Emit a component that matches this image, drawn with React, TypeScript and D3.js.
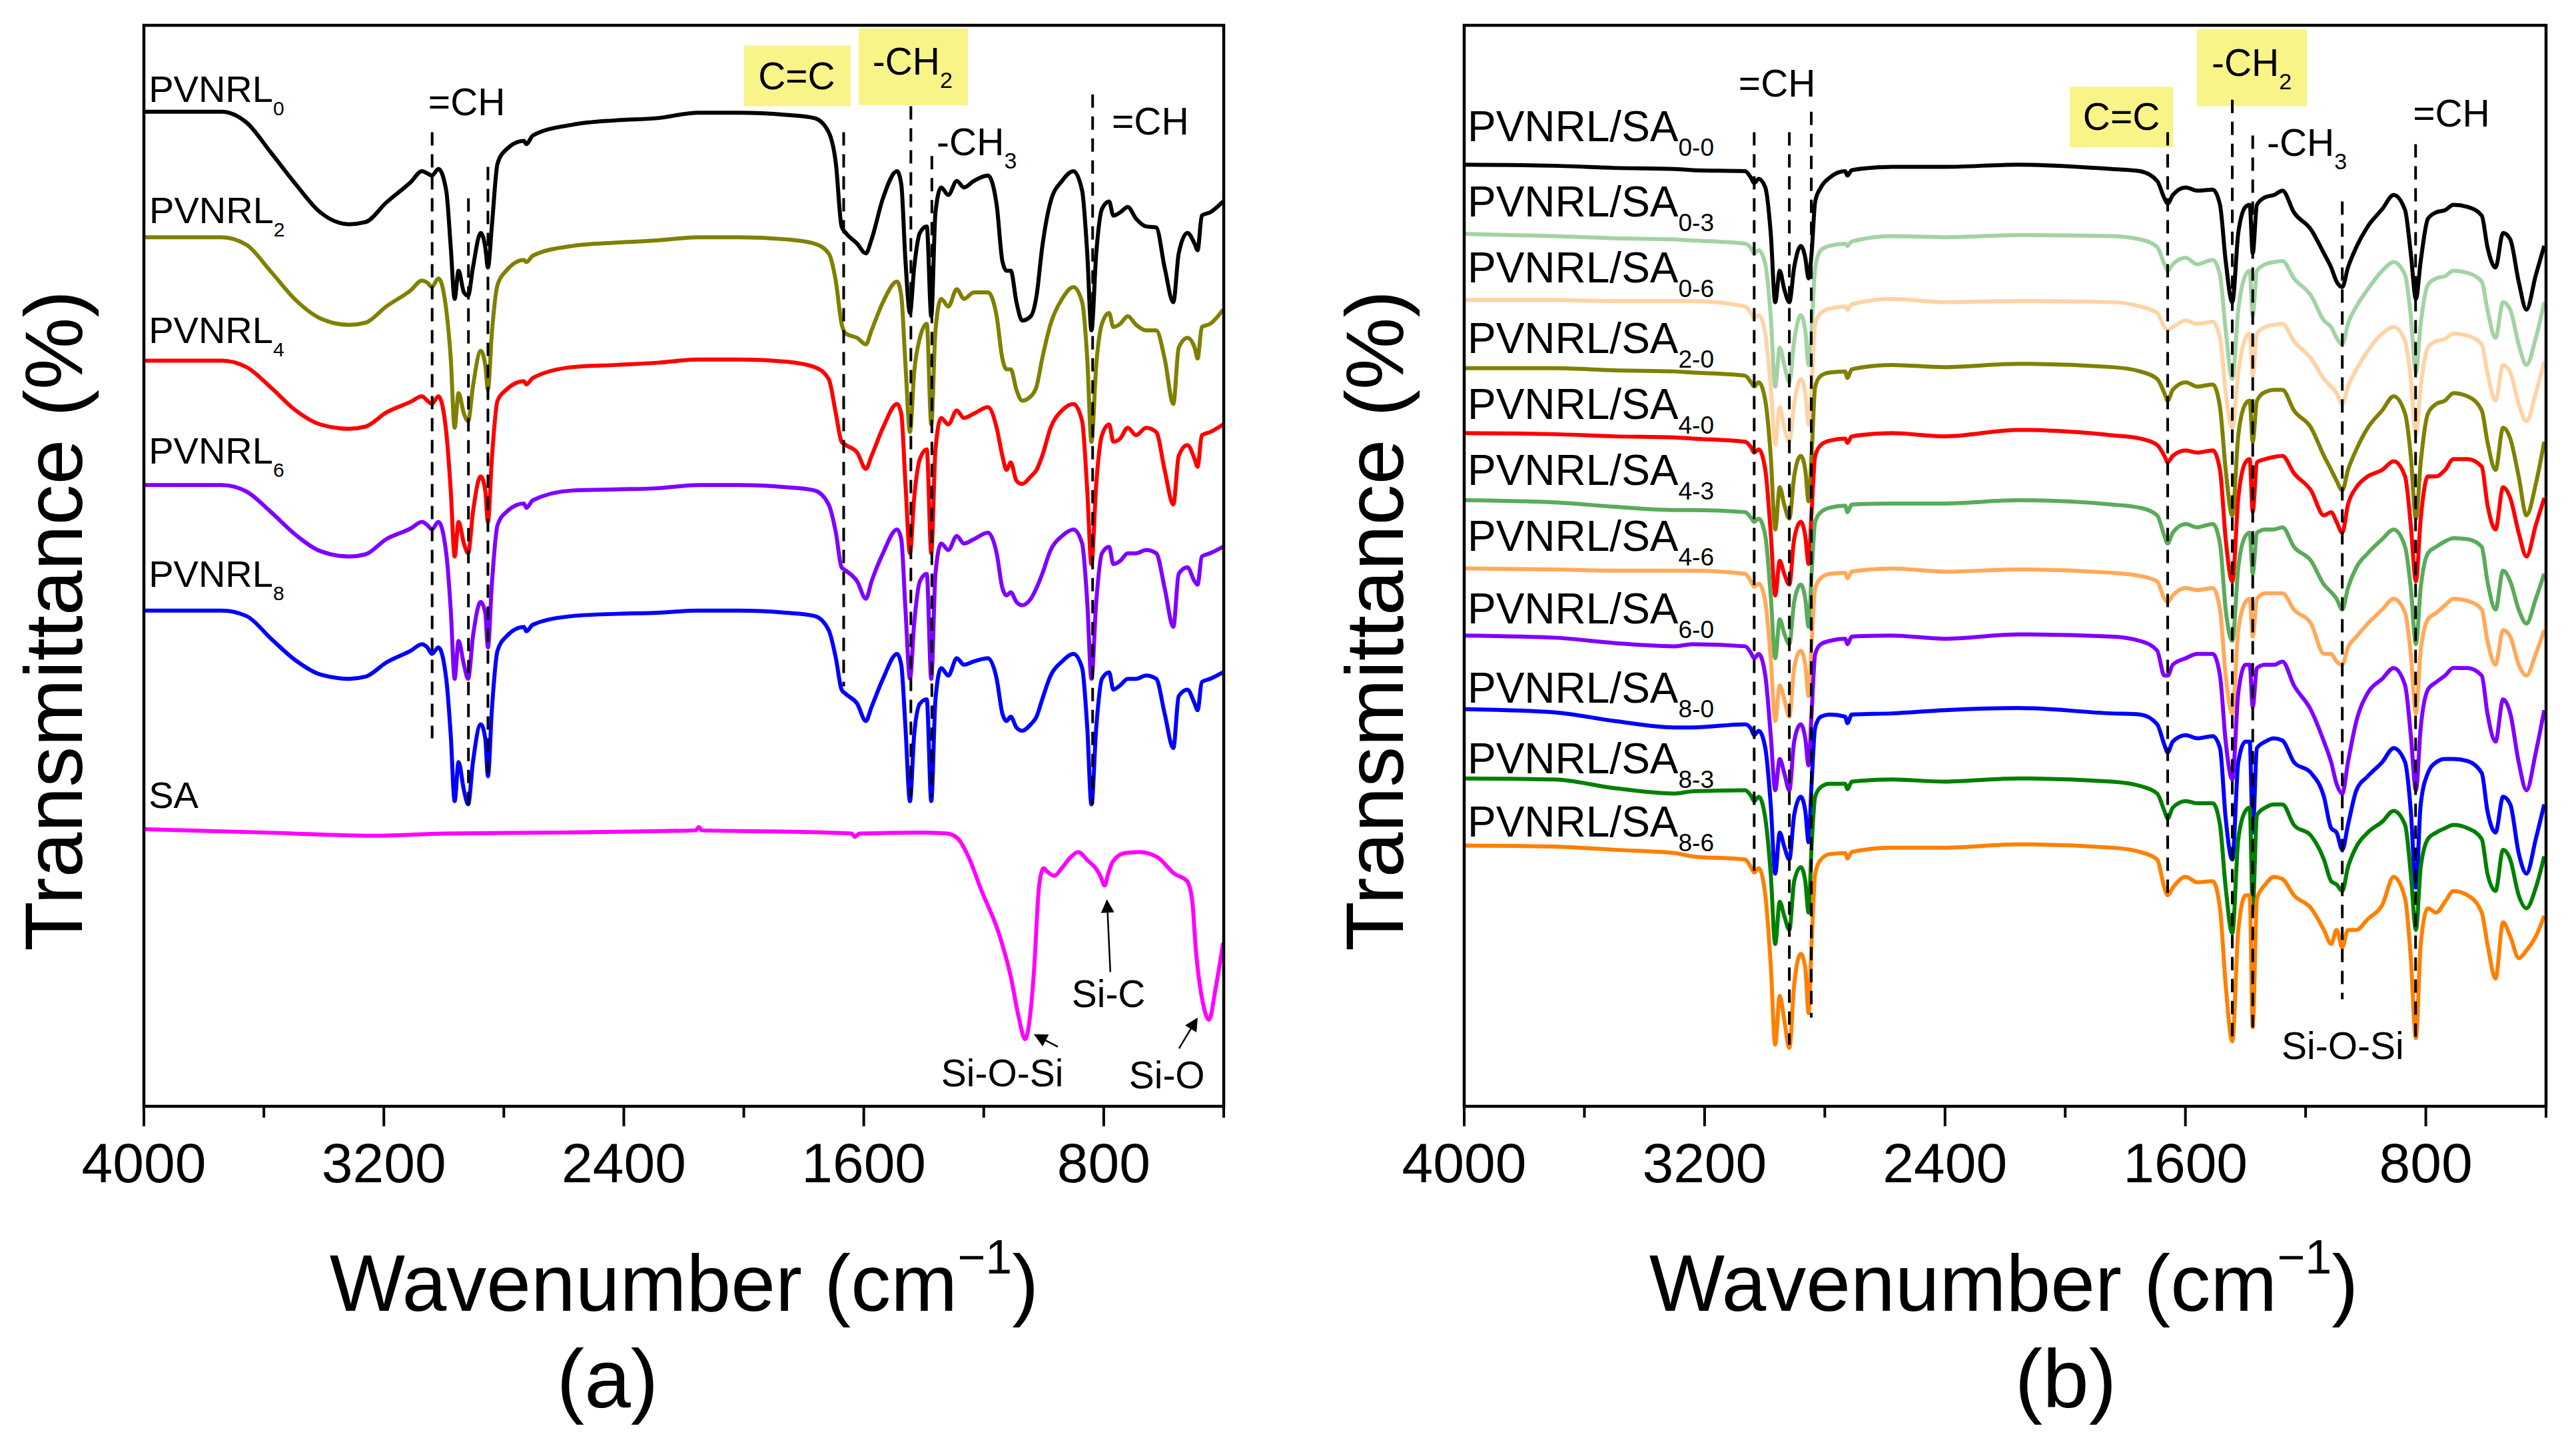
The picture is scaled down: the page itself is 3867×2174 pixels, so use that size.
import { useMemo } from 'react';
import * as d3 from 'd3';

const WIDTH = 3867;
const HEIGHT = 2174;
const FONT = '"Liberation Sans", Arial, Helvetica, sans-serif';

const PLOT_TOP = 38;
const PLOT_BOTTOM = 1661;

const majorTicks = [4000, 3200, 2400, 1600, 800];
const minorTicks = [3600, 2800, 2000, 1200, 400];

// ---------- panel (a): PVNRL films + SA ----------
const wnA = [
  4000, 3740, 3658, 3576, 3494, 3412, 3316, 3261, 3192, 3110,
  3073, 3055, 3040, 3018, 2992, 2977, 2964, 2951, 2933, 2919,
  2903, 2877, 2862, 2853, 2840, 2821, 2792, 2733, 2725, 2703,
  2570, 2426, 2289, 2152, 2015,
  1859, 1764, 1717, 1693, 1674, 1660, 1622, 1593, 1574, 1536,
  1489, 1475, 1461, 1446, 1432, 1413, 1390, 1375, 1361, 1342,
  1318, 1290, 1266, 1233, 1186, 1157, 1138, 1124, 1110, 1091,
  1072, 1043, 1024, 1005, 977, 939, 901, 872, 855, 841,
  825, 806, 782, 768, 745, 720, 692, 659, 625, 597,
  568, 550, 521, 497, 487, 473, 445, 402,
];

const pvnrl0 = [
  91.9, 91.9, 90.9, 88.1, 85.2, 82.6, 81.5, 81.7, 83.5, 85.4,
  86.4, 86.2, 86.0, 86.6, 84.6, 79.4, 74.6, 77.2, 75.2, 74.9,
  77.5, 80.7, 79.4, 77.5, 81.3, 87.1, 88.4, 89.2, 88.9, 89.7,
  90.7, 91.1, 91.3, 91.8, 91.8,
  91.6, 91.3, 90.0, 87.1, 81.3, 80.7, 79.7, 78.8, 80.1, 83.9,
  86.4, 85.2, 78.1, 73.3, 77.5, 80.7, 81.3, 73.0, 82.6, 84.9,
  84.2, 85.5, 84.9, 85.5, 86.0, 83.3, 78.1, 77.2, 77.2, 74.3,
  72.6, 73.0, 74.9, 79.4, 83.6, 85.5, 86.4, 84.6, 78.8, 71.7,
  78.8, 82.9, 83.6, 82.3, 82.6, 83.1, 82.0, 81.3, 81.2, 77.5,
  74.3, 78.8, 80.7, 79.7, 79.1, 82.3, 82.6, 83.6,
];

const pvnrl2 = [
  80.3, 80.3, 79.6, 77.1, 74.5, 72.8, 72.2, 72.4, 73.9, 75.4,
  76.3, 76.1, 75.7, 76.5, 73.6, 69.1, 62.7, 65.9, 64.0, 63.3,
  66.5, 69.8, 68.5, 66.2, 71.4, 75.9, 77.2, 78.2, 78.0, 78.6,
  79.5, 79.8, 80.0, 80.3, 80.3,
  80.1, 79.7, 78.8, 76.2, 72.3, 71.4, 71.0, 70.4, 71.7, 74.3,
  76.2, 74.9, 68.5, 62.3, 67.8, 71.0, 72.3, 63.0, 71.7, 74.6,
  73.9, 75.5, 74.6, 75.2, 75.2, 73.0, 69.1, 68.1, 68.1, 66.2,
  65.2, 65.6, 66.5, 69.1, 72.3, 74.6, 75.7, 74.3, 69.1, 61.4,
  68.5, 72.3, 73.3, 72.0, 72.3, 73.0, 72.2, 71.7, 71.7, 69.1,
  64.9, 70.1, 71.0, 70.1, 69.1, 72.0, 72.3, 73.6,
];

const pvnrl4 = [
  68.9, 68.9, 68.3, 66.4, 64.3, 63.0, 62.6, 62.8, 64.1, 65.1,
  65.6, 65.2, 64.9, 65.6, 62.3, 56.9, 50.8, 54.0, 52.0, 51.1,
  54.9, 58.2, 56.9, 54.0, 59.8, 65.2, 66.2, 67.0, 66.7, 67.3,
  68.3, 68.5, 68.7, 69.0, 69.0,
  68.8, 68.3, 67.2, 64.0, 61.4, 61.1, 60.4, 58.9, 60.1, 62.7,
  64.9, 64.0, 57.5, 51.1, 56.2, 59.8, 60.7, 51.1, 60.7, 63.6,
  63.0, 64.3, 63.6, 64.0, 64.6, 62.7, 60.1, 58.8, 59.5, 57.8,
  57.5, 58.2, 58.8, 60.1, 62.7, 64.3, 64.9, 63.3, 56.9, 50.1,
  57.5, 62.0, 63.0, 61.4, 61.7, 62.7, 62.0, 62.7, 62.3, 58.8,
  55.6, 60.1, 61.1, 59.8, 59.1, 62.0, 62.3, 63.0,
];

const pvnrl6 = [
  57.4, 57.4, 56.8, 54.9, 52.8, 51.3, 50.8, 51.0, 52.4, 53.4,
  54.0, 53.7, 53.3, 54.0, 51.1, 45.9, 39.5, 43.0, 40.8, 39.5,
  43.4, 46.6, 45.6, 42.4, 48.2, 53.7, 54.9, 55.7, 55.3, 56.0,
  56.9, 57.0, 57.1, 57.4, 57.4,
  57.2, 56.9, 55.6, 53.0, 49.8, 49.5, 48.5, 46.9, 48.5, 51.1,
  53.3, 52.4, 45.9, 39.5, 44.6, 48.5, 49.2, 39.5, 49.2, 52.0,
  51.4, 52.7, 52.0, 52.4, 53.0, 51.1, 47.9, 47.2, 47.5, 46.6,
  46.3, 46.9, 47.9, 49.2, 51.4, 52.7, 53.3, 52.0, 46.6, 39.5,
  46.6, 51.1, 51.7, 50.1, 50.4, 51.1, 51.1, 51.4, 51.1, 47.9,
  44.3, 49.2, 49.8, 48.5, 48.2, 50.8, 51.1, 51.7,
];

const pvnrl8 = [
  45.8, 45.8, 45.3, 43.2, 41.2, 39.9, 39.5, 39.7, 41.0, 42.1,
  42.7, 42.4, 41.8, 42.4, 39.5, 34.3, 28.2, 31.8, 29.2, 27.9,
  31.8, 35.3, 34.0, 30.5, 36.6, 42.1, 43.4, 44.3, 43.9, 44.5,
  45.3, 45.5, 45.6, 45.8, 45.8,
  45.6, 45.3, 44.0, 41.4, 38.5, 38.1, 37.2, 35.6, 36.9, 39.5,
  41.8, 40.8, 35.0, 28.2, 34.3, 37.2, 37.6, 28.2, 37.6, 40.5,
  39.8, 41.4, 40.8, 41.1, 41.4, 39.5, 36.3, 35.6, 36.0, 35.0,
  34.7, 35.3, 36.0, 37.6, 39.8, 41.1, 41.8, 40.5, 35.0, 27.9,
  35.0, 39.5, 40.1, 38.5, 38.9, 39.5, 39.5, 39.8, 39.5, 36.3,
  33.1, 37.9, 38.5, 37.2, 36.6, 39.2, 39.5, 40.1,
];

const wnSA = [
  4000, 3600, 3230, 3000, 2600, 2160, 2150, 2140, 1900, 1640,
  1630, 1615, 1400, 1320, 1285, 1250, 1210, 1150, 1110, 1084,
  1062, 1045, 1033, 1015, 1000, 989, 965, 940, 911, 885,
  853, 824, 810, 797, 785, 770, 730, 680, 620, 565,
  522, 505, 493, 469, 449, 427, 402,
];

const saOnly = [
  25.6, 25.3, 25.0, 25.2, 25.3, 25.5, 25.8, 25.5, 25.4, 25.2,
  24.9, 25.2, 25.3, 25.2, 24.7, 23.0, 20.1, 16.0, 12.0, 8.3,
  6.2, 8.5, 12.3, 20.5, 22.0, 21.7, 21.3, 22.0, 23.0, 23.5,
  22.7, 21.9, 21.2, 20.4, 21.5, 22.6, 23.4, 23.5, 23.0, 21.5,
  20.8, 19.0, 14.5, 9.5, 8.0, 10.9, 15.1,
];

// ---------- panel (b): PVNRL/SA blends ----------
const wnB = [
  4000, 3700, 3500, 3300, 3242,
  3065, 3046, 3035, 3020, 2998, 2980, 2965, 2950, 2935, 2918,
  2902, 2880, 2865, 2854, 2844, 2832, 2813, 2784, 2732, 2725,
  2710, 2577, 2402, 2156,
  1845, 1751, 1694, 1670, 1659, 1642, 1599, 1561, 1509, 1485,
  1466, 1444, 1424, 1400, 1386, 1376, 1362, 1334, 1305, 1277,
  1239, 1182, 1139, 1115, 1097, 1078, 1059, 1031, 993, 945,
  907, 869, 850, 833, 817, 793, 765, 736, 708, 661,
  614, 595, 568, 543, 519, 491, 465, 434, 406,
];

const sa00 = [
  87.0, 86.9, 86.7, 86.6, 86.5,
  86.4, 85.8, 85.3, 85.7, 84.9, 80.7, 74.3, 77.2, 75.5, 74.3,
  77.5, 79.5, 78.4, 76.5, 78.8, 83.6, 84.9, 85.8, 86.4, 86.0,
  86.5, 86.8, 86.8, 87.0,
  86.6, 86.4, 85.5, 83.9, 83.4, 84.2, 84.9, 84.6, 84.7, 83.3,
  78.1, 74.3, 80.7, 83.1, 83.3, 78.8, 83.3, 84.0, 84.2, 84.6,
  82.6, 81.0, 78.8, 77.5, 76.2, 75.7, 77.5, 79.4, 81.3, 82.9,
  84.2, 82.8, 78.8, 74.6, 78.1, 82.0, 82.6, 82.8, 83.3, 83.1,
  82.3, 79.4, 77.5, 80.7, 80.1, 76.2, 73.6, 76.8, 79.5,
];

const sa03 = [
  80.6, 80.4, 80.2, 80.1, 80.0,
  79.7, 79.3, 78.8, 79.1, 77.8, 73.0, 66.5, 70.1, 68.5, 66.9,
  70.7, 73.1, 71.7, 68.5, 71.7, 77.5, 79.1, 79.5, 79.7, 79.5,
  79.9, 80.4, 80.3, 80.5,
  80.4, 80.1, 79.4, 77.8, 77.2, 77.8, 78.4, 77.8, 78.2, 76.8,
  71.7, 67.2, 73.6, 76.8, 77.2, 73.0, 77.2, 77.8, 78.0, 78.1,
  76.5, 74.9, 72.6, 72.0, 71.0, 70.4, 72.3, 73.9, 75.5, 77.2,
  78.0, 76.8, 73.0, 67.8, 72.3, 75.9, 76.5, 76.7, 77.2, 77.0,
  76.2, 73.6, 71.0, 74.3, 73.6, 70.4, 68.5, 71.0, 74.3,
];

const sa06 = [
  74.5, 74.5, 74.4, 74.4, 74.4,
  73.9, 73.3, 72.8, 73.1, 71.4, 66.5, 61.1, 64.6, 62.7, 61.4,
  64.9, 67.2, 65.9, 63.0, 66.5, 72.3, 73.3, 73.7, 73.9, 73.6,
  74.1, 74.6, 74.3, 74.4,
  74.3, 73.9, 73.3, 72.0, 71.7, 72.0, 72.6, 72.3, 72.5, 71.0,
  65.9, 62.7, 67.8, 71.0, 71.4, 67.5, 71.4, 72.0, 72.2, 72.3,
  70.7, 69.1, 67.2, 66.5, 65.9, 64.9, 66.5, 68.1, 69.8, 71.4,
  72.0, 70.7, 67.2, 62.0, 66.5, 70.1, 70.7, 70.9, 71.4, 71.2,
  70.4, 67.8, 65.2, 68.5, 67.8, 64.9, 63.3, 65.9, 68.8,
];

const sa20 = [
  68.2, 68.2, 68.0, 67.9, 67.8,
  67.5, 66.9, 66.5, 66.9, 65.2, 60.1, 53.3, 57.2, 55.6, 54.3,
  58.2, 60.1, 58.8, 55.9, 60.1, 66.5, 67.5, 67.8, 67.9, 67.3,
  68.1, 68.5, 68.3, 68.6,
  68.3, 67.9, 67.2, 65.9, 65.2, 66.2, 66.9, 66.5, 66.7, 64.6,
  58.8, 54.6, 62.0, 64.9, 65.2, 61.4, 65.2, 66.0, 66.2, 66.2,
  64.3, 62.7, 60.1, 58.8, 57.8, 56.9, 58.8, 60.7, 62.7, 64.3,
  65.6, 64.0, 60.1, 54.3, 59.5, 64.0, 64.9, 65.2, 65.9, 65.6,
  64.3, 61.4, 58.8, 62.7, 61.7, 58.2, 54.6, 57.5, 61.4,
];

const sa40 = [
  62.2, 62.1, 61.9, 61.8, 61.7,
  61.4, 60.9, 60.4, 60.7, 58.8, 53.0, 47.2, 50.4, 49.2, 48.2,
  52.4, 54.0, 52.7, 50.1, 54.9, 60.1, 61.1, 61.5, 61.7, 61.3,
  61.9, 62.2, 61.9, 62.5,
  62.0, 61.7, 61.1, 60.1, 59.5, 60.1, 60.6, 60.4, 60.6, 58.8,
  52.4, 48.5, 56.2, 59.5, 59.8, 54.9, 59.5, 59.8, 60.0, 60.1,
  58.5, 56.9, 54.6, 54.9, 54.0, 53.0, 55.6, 57.2, 58.2, 58.8,
  59.6, 58.2, 53.7, 48.5, 54.3, 58.2, 58.2, 58.8, 59.8, 59.8,
  59.1, 55.6, 53.3, 57.2, 56.2, 53.0, 50.8, 53.7, 56.2,
];

const sa43 = [
  56.0, 55.8, 55.4, 55.1, 55.1,
  54.9, 54.4, 54.0, 54.3, 52.7, 47.2, 41.4, 45.0, 43.7, 42.7,
  46.6, 48.2, 46.9, 44.3, 49.2, 54.0, 54.9, 55.3, 55.5, 54.9,
  55.6, 55.7, 55.7, 56.0,
  55.6, 55.3, 54.6, 52.7, 52.0, 53.0, 53.8, 53.5, 53.8, 52.0,
  45.9, 43.0, 49.8, 52.7, 53.0, 49.2, 53.0, 53.3, 53.3, 53.5,
  51.7, 50.4, 48.2, 47.5, 46.9, 45.9, 47.9, 49.8, 51.1, 52.4,
  53.3, 51.7, 47.9, 42.7, 47.9, 51.1, 51.7, 52.2, 52.5, 52.4,
  51.7, 48.5, 45.9, 49.5, 48.5, 45.9, 44.6, 46.9, 49.2,
];

const sa46 = [
  49.7, 49.6, 49.5, 49.5, 49.5,
  49.2, 48.5, 48.0, 48.3, 46.6, 41.4, 35.6, 38.9, 37.6, 36.0,
  40.5, 42.1, 40.8, 37.9, 42.7, 47.9, 48.8, 49.2, 49.3, 48.8,
  49.4, 49.7, 49.4, 49.6,
  49.3, 49.0, 48.5, 46.9, 46.6, 47.2, 47.9, 47.7, 47.9, 45.9,
  39.8, 36.3, 44.0, 46.6, 46.9, 43.4, 46.9, 47.4, 47.4, 47.4,
  45.9, 44.6, 41.8, 41.8, 41.1, 40.8, 42.4, 43.4, 44.6, 45.9,
  46.9, 45.6, 41.8, 36.3, 42.1, 45.0, 45.6, 46.3, 46.9, 46.7,
  45.9, 43.0, 40.8, 44.0, 43.4, 40.8, 39.8, 41.8, 44.0,
];

const sa60 = [
  43.5, 43.3, 42.8, 42.5, 42.7,
  42.5, 41.9, 41.4, 41.8, 39.8, 34.3, 29.2, 32.1, 30.8, 29.2,
  33.7, 35.3, 34.0, 31.5, 36.3, 41.8, 42.7, 43.0, 43.2, 42.7,
  43.4, 43.5, 43.2, 43.6,
  43.4, 43.0, 42.1, 39.8, 39.8, 40.8, 41.4, 41.8, 41.8, 39.8,
  33.7, 30.2, 38.2, 40.8, 40.8, 36.9, 40.5, 40.8, 40.8, 41.1,
  38.9, 36.6, 33.7, 31.8, 29.8, 28.9, 31.8, 35.6, 38.2, 39.5,
  40.5, 38.9, 34.3, 29.2, 35.0, 38.5, 39.2, 39.8, 40.5, 40.5,
  39.8, 36.3, 33.7, 37.6, 36.3, 31.8, 29.2, 32.7, 36.6,
];

const sa80 = [
  36.7, 36.4, 35.6, 35.0, 35.0,
  35.3, 34.9, 34.3, 34.7, 33.1, 27.9, 21.5, 25.3, 24.0, 22.8,
  26.9, 28.6, 27.3, 24.4, 29.8, 35.0, 36.0, 36.2, 36.0, 35.4,
  36.2, 36.3, 36.6, 36.8,
  36.3, 36.2, 35.3, 33.4, 32.7, 33.7, 34.3, 34.0, 34.2, 33.1,
  26.6, 22.8, 31.8, 33.7, 33.7, 25.3, 33.1, 33.7, 34.0, 33.8,
  31.8, 30.8, 28.6, 25.7, 25.3, 23.7, 26.0, 29.2, 30.5, 31.8,
  33.1, 31.8, 27.3, 20.2, 27.9, 30.8, 31.8, 32.1, 32.1, 31.9,
  30.8, 27.3, 25.3, 28.6, 27.9, 23.4, 21.5, 24.7, 27.9,
];

const sa83 = [
  30.3, 30.2, 29.4, 28.9, 29.1,
  29.2, 28.7, 28.2, 28.6, 26.6, 21.5, 15.0, 18.9, 17.6, 16.3,
  20.8, 22.1, 20.8, 17.9, 24.0, 28.6, 29.5, 29.8, 29.8, 29.3,
  30.0, 30.2, 30.0, 30.3,
  30.0, 29.6, 28.9, 27.3, 26.6, 27.6, 28.2, 28.0, 28.0, 26.0,
  20.2, 16.0, 24.7, 27.3, 27.6, 18.3, 26.9, 27.6, 27.9, 27.9,
  26.0, 25.0, 22.8, 20.8, 20.5, 19.9, 22.1, 24.0, 25.3, 26.3,
  27.3, 26.0, 21.5, 16.3, 22.1, 24.7, 25.3, 25.7, 26.0, 25.7,
  24.7, 21.5, 19.9, 23.7, 22.8, 19.5, 18.3, 20.2, 23.1,
];

const sa86 = [
  24.1, 24.0, 23.7, 23.4, 23.1,
  22.8, 22.1, 21.6, 22.0, 19.5, 13.1, 5.7, 10.2, 8.0, 5.4,
  11.2, 14.1, 12.8, 8.6, 15.0, 21.5, 22.8, 23.3, 23.4, 22.9,
  23.5, 23.9, 23.9, 24.2,
  23.9, 23.5, 22.8, 20.2, 19.5, 20.2, 21.2, 20.7, 20.8, 18.3,
  11.2, 6.0, 16.3, 19.5, 19.5, 7.3, 19.2, 20.5, 21.2, 21.0,
  19.5, 18.3, 16.3, 15.0, 16.3, 14.7, 16.3, 16.3, 17.3, 18.6,
  21.2, 19.2, 13.7, 6.3, 15.0, 18.3, 17.9, 18.9, 19.9, 19.5,
  17.9, 15.0, 11.8, 17.0, 15.7, 13.7, 14.4, 15.7, 17.6,
];

type Curve = {
  name: string;
  sub: string;
  color: string;
  wn: number[];
  t: number[];
  at: [number, number];
};

const curvesA: Curve[] = [
  { name: 'PVNRL', sub: '0', color: '#000000', wn: wnA, t: pvnrl0, at: [3984, 92.8] },
  { name: 'PVNRL', sub: '2', color: '#808000', wn: wnA, t: pvnrl2, at: [3982, 81.6] },
  { name: 'PVNRL', sub: '4', color: '#ff0000', wn: wnA, t: pvnrl4, at: [3984, 70.5] },
  { name: 'PVNRL', sub: '6', color: '#8000ff', wn: wnA, t: pvnrl6, at: [3984, 59.4] },
  { name: 'PVNRL', sub: '8', color: '#0000ff', wn: wnA, t: pvnrl8, at: [3984, 48.0] },
  { name: 'SA', sub: '', color: '#ff00ff', wn: wnSA, t: saOnly, at: [3984, 27.6] },
];

const curvesB: Curve[] = [
  { name: 'PVNRL/SA', sub: '0-0', color: '#000000', wn: wnB, t: sa00, at: [3989, 89.2] },
  { name: 'PVNRL/SA', sub: '0-3', color: '#a3d3a3', wn: wnB, t: sa03, at: [3989, 82.2] },
  { name: 'PVNRL/SA', sub: '0-6', color: '#ffd3a6', wn: wnB, t: sa06, at: [3989, 76.1] },
  { name: 'PVNRL/SA', sub: '2-0', color: '#808000', wn: wnB, t: sa20, at: [3989, 69.6] },
  { name: 'PVNRL/SA', sub: '4-0', color: '#ff0000', wn: wnB, t: sa40, at: [3989, 63.5] },
  { name: 'PVNRL/SA', sub: '4-3', color: '#5aab5a', wn: wnB, t: sa43, at: [3989, 57.4] },
  { name: 'PVNRL/SA', sub: '4-6', color: '#ffaa5a', wn: wnB, t: sa46, at: [3989, 51.3] },
  { name: 'PVNRL/SA', sub: '6-0', color: '#8000ff', wn: wnB, t: sa60, at: [3989, 44.6] },
  { name: 'PVNRL/SA', sub: '8-0', color: '#0000ff', wn: wnB, t: sa80, at: [3989, 37.3] },
  { name: 'PVNRL/SA', sub: '8-3', color: '#008000', wn: wnB, t: sa83, at: [3989, 30.8] },
  { name: 'PVNRL/SA', sub: '8-6', color: '#ff8000', wn: wnB, t: sa86, at: [3989, 24.9] },
];

// dashed guide lines: [wavenumber, top, bottom]
const dashesA = [
  [3039, 90.0, 34.0], [2918, 83.9, 27.6], [2853, 86.8, 30.8],
  [1667, 90.0, 38.8], [1443, 92.4, 28.6], [1373, 87.8, 28.6], [837, 93.5, 27.9],
];
const dashesB = [
  [3035, 90.0, 21.5], [2918, 90.0, 5.7], [2845, 91.9, 8.2], [1659, 90.0, 19.2],
  [1444, 93.0, 6.0], [1376, 89.7, 7.3], [1078, 83.6, 9.9], [834, 88.9, 6.3],
];

// highlight boxes: [wn left, wn right, top, bottom]
const boxesA = [[1999, 1644, 98.0, 92.4], [1617, 1253, 99.6, 92.5]];
const boxesB = [[1985, 1641, 94.2, 88.6], [1562, 1196, 99.5, 92.4]];

type Note = { text: string; sub?: string; wn: number; t: number };

const notesA: Note[] = [
  { text: '=CH', wn: 3052, t: 91.6 },
  { text: '=CH', wn: 773, t: 89.8 },
  { text: '-CH', sub: '3', wn: 1357, t: 87.9 },
  { text: 'C=C', wn: 1952, t: 94.0 },
  { text: '-CH', sub: '2', wn: 1571, t: 95.3 },
  { text: 'Si-C', wn: 907, t: 9.2 },
  { text: 'Si-O-Si', wn: 1342, t: 1.85 },
  { text: 'Si-O', wn: 716, t: 1.66 },
];
const notesB: Note[] = [
  { text: '=CH', wn: 3087, t: 93.3 },
  { text: 'C=C', wn: 1941, t: 90.2 },
  { text: '-CH', sub: '2', wn: 1513, t: 95.2 },
  { text: '-CH', sub: '3', wn: 1329, t: 87.8 },
  { text: '=CH', wn: 843, t: 90.5 },
  { text: 'Si-O-Si', wn: 1280, t: 4.4 },
];

// arrows: [from, to] in (wavenumber, transmittance)
const arrowsA = [
  [[953, 5.5], [1029, 6.6]],
  [[778, 12.4], [789, 19.0]],
  [[549, 5.35], [489, 8.1]],
];

type PanelProps = {
  id: string;
  left: number;
  right: number;
  curves: Curve[];
  labelSize: number;
  subSize: number;
  subDy: number;
  dashes: number[][];
  boxes: number[][];
  notes: Note[];
  arrows: number[][][];
  yTitleX: number;
  xTitleX: number;
  tagX: number;
  tag: string;
};

function SpectraPanel(p: PanelProps): React.ReactNode {
  const x = useMemo(
    () => d3.scaleLinear().domain([4000, 400]).range([p.left, p.right]),
    [p.left, p.right],
  );
  const y = useMemo(() => d3.scaleLinear().domain([0, 100]).range([PLOT_BOTTOM, 36]), []);

  const paths = useMemo(() => {
    const line = d3
      .line<[number, number]>()
      .x((d) => x(d[0]))
      .y((d) => y(d[1]))
      .curve(d3.curveMonotoneX);
    return p.curves.map((c) => line(d3.zip(c.wn, c.t) as [number, number][]) ?? '');
  }, [p.curves, x, y]);

  const clipId = `clip-${p.id}`;

  return (
    <g fontFamily={FONT}>
      <clipPath id={clipId}>
        <rect x={p.left} y={PLOT_TOP} width={p.right - p.left} height={PLOT_BOTTOM - PLOT_TOP} />
      </clipPath>

      {p.boxes.map((b, i) => (
        <rect
          key={i}
          x={x(b[0])}
          y={y(b[2])}
          width={x(b[1]) - x(b[0])}
          height={y(b[3]) - y(b[2])}
          fill="#f8f488"
        />
      ))}

      <g clipPath={`url(#${clipId})`}>
        {paths.map((d, i) => (
          <path
            key={i}
            d={d}
            fill="none"
            stroke={p.curves[i].color}
            strokeWidth={6}
            strokeLinejoin="round"
          />
        ))}
      </g>

      {p.dashes.map((d, i) => (
        <line
          key={i}
          x1={x(d[0])}
          x2={x(d[0])}
          y1={y(d[1])}
          y2={y(d[2])}
          stroke="#000"
          strokeWidth={4}
          strokeDasharray="20 13"
        />
      ))}

      {p.curves.map((c, i) => (
        <text key={i} x={x(c.at[0])} y={y(c.at[1])} fontSize={p.labelSize} fill="#000">
          {c.name}
          {c.sub && (
            <tspan dy={p.subDy} fontSize={p.subSize}>
              {c.sub}
            </tspan>
          )}
        </text>
      ))}

      {p.notes.map((n, i) => (
        <text key={i} x={x(n.wn)} y={y(n.t)} fontSize={57} fill="#000">
          {n.text}
          {n.sub && (
            <tspan dy={20} fontSize={34}>
              {n.sub}
            </tspan>
          )}
        </text>
      ))}

      {p.arrows.map((a, i) => (
        <line
          key={i}
          x1={x(a[0][0])}
          y1={y(a[0][1])}
          x2={x(a[1][0])}
          y2={y(a[1][1])}
          stroke="#000"
          strokeWidth={2.5}
          markerEnd="url(#arrowHead)"
        />
      ))}

      <rect
        x={p.left}
        y={PLOT_TOP}
        width={p.right - p.left}
        height={PLOT_BOTTOM - PLOT_TOP}
        fill="none"
        stroke="#000"
        strokeWidth={4.5}
      />

      {majorTicks.map((t) => (
        <g key={t}>
          <line x1={x(t)} x2={x(t)} y1={PLOT_BOTTOM} y2={PLOT_BOTTOM + 30} stroke="#000" strokeWidth={4} />
          <text x={x(t)} y={1775} fontSize={84} textAnchor="middle" fill="#000">
            {t}
          </text>
        </g>
      ))}
      {minorTicks.map((t) => (
        <line key={t} x1={x(t)} x2={x(t)} y1={PLOT_BOTTOM} y2={PLOT_BOTTOM + 17} stroke="#000" strokeWidth={4} />
      ))}

      <text
        transform={`translate(${p.yTitleX},932) rotate(-90)`}
        fontSize={122}
        textAnchor="middle"
        fill="#000"
      >
        Transmittance (%)
      </text>

      <text x={p.xTitleX} y={1968} fontSize={120} textAnchor="middle" fill="#000">
        Wavenumber (cm
        <tspan dy={-56} fontSize={72}>
          −1
        </tspan>
        <tspan dy={56} fontSize={120}>
          )
        </tspan>
      </text>

      <text x={p.tagX} y={2113} fontSize={125} textAnchor="middle" fill="#000">
        {p.tag}
      </text>
    </g>
  );
}

export default function App(): React.ReactNode {
  return (
    <div style={{ position: 'absolute', left: 0, top: 0, width: WIDTH, height: HEIGHT, background: '#fff' }}>
      <svg width={WIDTH} height={HEIGHT} viewBox={`0 0 ${WIDTH} ${HEIGHT}`} style={{ display: 'block' }}>
        <defs>
          <marker
            id="arrowHead"
            viewBox="0 0 10 10"
            refX={9}
            refY={5}
            markerUnits="userSpaceOnUse"
            markerWidth={26}
            markerHeight={20}
            orient="auto"
          >
            <path d="M0,0 L10,5 L0,10 Z" fill="#000" />
          </marker>
        </defs>
        <rect width={WIDTH} height={HEIGHT} fill="#fff" />
        <SpectraPanel
          id="a"
          left={216}
          right={1837}
          curves={curvesA}
          labelSize={56}
          subSize={30}
          subDy={20}
          dashes={dashesA}
          boxes={boxesA}
          notes={notesA}
          arrows={arrowsA}
          yTitleX={123}
          xTitleX={1027}
          tagX={912}
          tag="(a)"
        />
        <SpectraPanel
          id="b"
          left={2198}
          right={3822}
          curves={curvesB}
          labelSize={64}
          subSize={37}
          subDy={22}
          dashes={dashesB}
          boxes={boxesB}
          notes={notesB}
          arrows={[]}
          yTitleX={2106}
          xTitleX={3008}
          tagX={3101}
          tag="(b)"
        />
      </svg>
    </div>
  );
}
